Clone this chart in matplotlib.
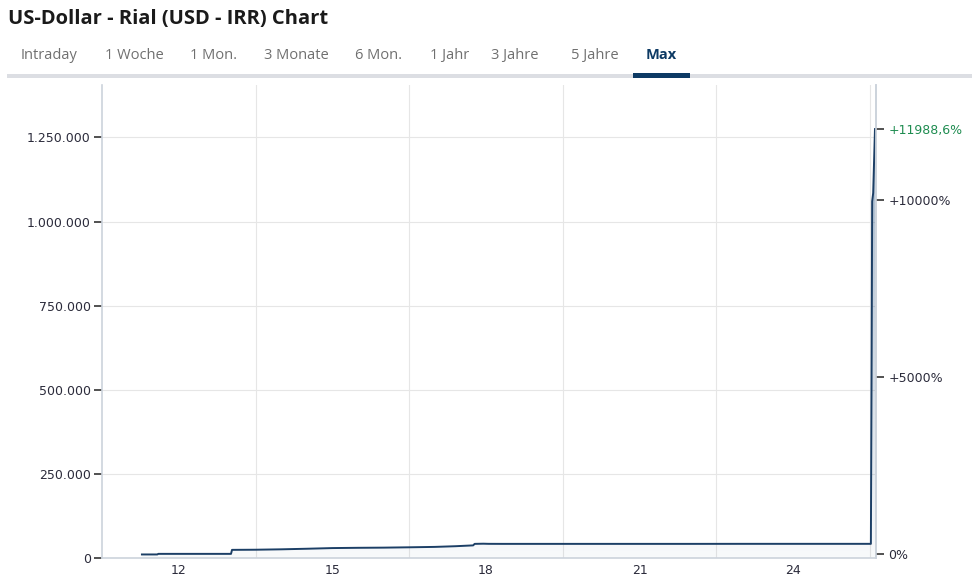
import numpy as np
import matplotlib.pyplot as plt
from matplotlib.patches import Rectangle

# Daten (Jahr als Dezimalzahl, 12 = 2012)
jahre = [11.28, 11.58, 11.60, 13.02, 13.04, 13.5, 14.0, 14.5, 15.0, 15.5, 16.0, 16.5,
         17.0, 17.4, 17.75, 17.78, 17.95, 18.05, 18.3, 19.0, 20.0, 21.0, 22.0, 23.0,
         24.0, 25.0, 25.52, 25.535, 25.545, 25.565, 25.60]
kurs = [10547, 10547, 12300, 12300, 24200, 24600, 25800, 27500, 29500, 30300, 30800, 31800,
        33000, 35000, 37500, 42000, 42500, 42100, 42000, 42000, 42000, 42000, 42000, 42100,
        42100, 42100, 42100, 600000, 1060000, 1085000, 1275000]
start_kurs = 10547
y_ticks = [0, 250000, 500000, 750000, 1000000, 1250000]
y_labels = ['0', '250.000', '500.000', '750.000', '1.000.000', '1.250.000']
x_ticks = [12, 15, 18, 21, 24]
x_labels = ['12', '15', '18', '21', '24']
x_grid = [13.5, 16.5, 19.5, 22.5, 25.5]
pct_ticks = [0, 5000, 10000]
pct_labels = ['0%', '+5000%', '+10000%']
pct_end = 11988.6
tabs = ['Intraday', '1 Woche', '1 Mon.', '3 Monate', '6 Mon.', '1 Jahr', '3 Jahre', '5 Jahre', 'Max']
tab_x = [49, 134, 214, 296, 379, 450, 515, 595, 661]

W, H = 972, 575
fig = plt.figure(figsize=(W / 100, H / 100), dpi=100)
fig.patch.set_facecolor('white')

# Titel und Tabs
fig.text(8 / W, 1 - 24 / H, 'US-Dollar - Rial (USD - IRR) Chart', fontsize=14.5,
         fontweight='bold', family='Open Sans', color='#1a1a1a', va='baseline', ha='left')
for t, x in zip(tabs, tab_x):
    aktiv = t == 'Max'
    fig.text(x / W, 1 - 59 / H, t, fontsize=10.5, family='Open Sans',
             fontweight='bold' if aktiv else 'normal',
             color='#0d3a64' if aktiv else '#707070', ha='center', va='baseline')
fig.add_artist(Rectangle((7 / W, 1 - 77.5 / H), (W - 7) / W, 3.5 / H,
                         transform=fig.transFigure, color='#dcdee3', lw=0))
fig.add_artist(Rectangle((633 / W, 1 - 78 / H), 57 / W, 5 / H,
                         transform=fig.transFigure, color='#0d3a64', lw=0))

# Diagramm
ax = fig.add_axes([102 / W, 1 - 558 / H, (876 - 102) / W, (558 - 85) / H])
ymax = 1406000
ax.set_xlim(10.5, 25.62)
ax.set_ylim(0, ymax)

x = np.array(jahre)
y = np.array(kurs)

# Flächenfüllung mit Verlauf
poly = ax.fill_between(x, 0, y, color='none', lw=0)
grad = np.linspace(0, 1, 256).reshape(-1, 1)
farbe = np.zeros((256, 1, 4))
farbe[..., 0] = 0x1c / 255
farbe[..., 1] = 0x4a / 255
farbe[..., 2] = 0x7a / 255
farbe[..., 3] = 0.03 + 0.42 * grad
img = ax.imshow(farbe, aspect='auto', extent=[10.5, 25.62, 0, ymax], origin='lower', zorder=1)
img.set_clip_path(poly.get_paths()[0], transform=ax.transData)

ax.plot(x, y, color='#1c3f66', lw=1.4, zorder=3)

ax.set_yticks(y_ticks)
ax.set_yticklabels(y_labels)
ax.set_xticks(x_ticks)
ax.set_xticklabels(x_labels)
ax.grid(axis='y', color='#e6e6e6', lw=0.8)
for g in x_grid:
    ax.axvline(g, color='#e6e6e6', lw=0.8, zorder=0)
ax.set_axisbelow(True)

ax.spines['top'].set_visible(False)
for s in ['left', 'bottom', 'right']:
    ax.spines[s].set_color('#ccd3dc')
    ax.spines[s].set_linewidth(1.2)
ax.tick_params(axis='y', length=6, width=1.2, color='#333333', labelsize=9,
               labelcolor='#2b2b3b', pad=2)
ax.tick_params(axis='x', length=0, labelsize=9, labelcolor='#2b2b3b', pad=4)

# rechte Achse mit Prozentwerten
ax2 = ax.twinx()
ax2.set_ylim(0, ymax)
pos = [start_kurs * (1 + p / 100) for p in pct_ticks] + [start_kurs * (1 + pct_end / 100)]
lab = pct_labels + ['+' + f'{pct_end:.1f}'.replace('.', ',') + '%']
ax2.set_yticks(pos)
ax2.set_yticklabels(lab)
ax2.tick_params(axis='y', length=6, width=1.2, color='#333333', labelsize=9,
                labelcolor='#2b2b3b', pad=3)
ax2.get_yticklabels()[-1].set_color('#1e8c50')
for s in ['top', 'left', 'bottom']:
    ax2.spines[s].set_visible(False)
ax2.spines['right'].set_color('#ccd3dc')
ax2.spines['right'].set_linewidth(1.2)

plt.savefig('out.png', dpi=100)
